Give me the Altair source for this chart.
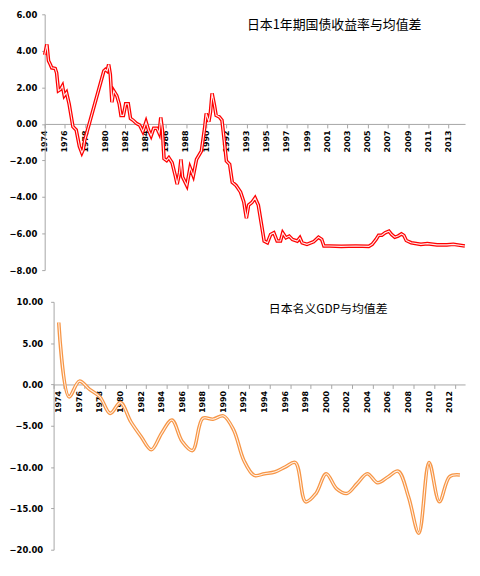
import json
import altair as alt
import pandas as pd

# ---------------- data ----------------
bond_title = "日本1年期国债收益率与均值差"
bond_ticks = ["1974", "1976", "1978", "1980", "1982", "1984", "1986", "1988", "1990", "1992",
              "1993", "1995", "1997", "1999", "2001", "2003", "2005", "2007", "2009", "2011", "2013"]
# position along the category axis, in label-step units (0 = "1974" label)
bond_pos = [0.00, 0.11, 0.19, 0.28, 0.35, 0.52, 0.59, 0.68, 0.79, 0.88, 0.97, 1.08, 1.21,
            1.40, 1.56, 1.72, 1.84, 1.91, 1.98, 2.93, 3.01, 3.09, 3.17, 3.25, 3.33, 3.42,
            3.57, 3.69, 3.78, 3.90, 4.01, 4.14, 4.25, 4.38, 4.54, 4.70, 4.86, 5.02, 5.14,
            5.27, 5.40, 5.56, 5.67, 5.75, 5.83, 5.91, 6.04, 6.15, 6.31, 6.47, 6.56, 6.68,
            6.75, 6.83, 7.04, 7.20, 7.36, 7.52, 7.76, 7.92, 8.00, 8.13, 8.21, 8.29, 8.41,
            8.49, 8.65, 8.78, 8.89, 9.00, 9.16, 9.29, 9.48, 9.70, 9.86, 9.99, 10.10, 10.26,
            10.42, 10.58, 10.74, 10.87, 11.03, 11.19, 11.35, 11.51, 11.68, 11.79, 11.95,
            12.11, 12.27, 12.51, 12.64, 12.75, 12.99, 13.32, 13.56, 13.72, 13.83, 14.12,
            14.69, 15.41, 16.05, 16.22, 16.41, 16.54, 16.70, 16.86, 17.05, 17.18, 17.34,
            17.50, 17.67, 17.79, 17.91, 18.15, 18.63, 18.95, 19.43, 19.92, 20.24, 20.81]
bond_val = [3.78, 4.35, 3.46, 3.25, 3.07, 3.03, 2.80, 1.82, 1.90, 2.08, 1.55, 1.72, 1.10,
            -0.15, -0.33, -1.23, -1.58, -1.40, -0.90, 2.90, 2.98, 2.90, 3.25, 2.71, 1.19, 1.82,
            1.55, 1.10, 0.47, 0.47, 1.10, 1.10, 0.30, 0.20, 0.03, -0.06, -0.42, 0.12, -0.33,
            -0.65, -0.24, -0.24, -0.51, 0.35, -0.33, -1.90, -2.00, -1.85, -2.12, -2.84, -3.30, -2.66,
            -1.94, -2.90, -3.37, -2.39, -2.84, -1.94, -1.49, -0.24, 0.57, 0.12, 0.65, 1.67, 1.01,
            0.47, 0.38, 0.20, -0.87, -2.03, -2.21, -3.19, -3.37, -3.73, -4.26, -5.16, -4.44, -4.30,
            -4.05, -4.44, -5.52, -6.41, -6.50, -6.05, -5.96, -6.41, -6.41, -5.96, -6.23,
            -6.14, -6.32, -6.41, -6.23, -6.50, -6.59, -6.45, -6.20, -6.32, -6.68, -6.68,
            -6.70, -6.68, -6.70, -6.59, -6.32, -6.09, -6.09, -5.96, -5.87, -6.05, -6.20,
            -6.14, -6.02, -6.10, -6.38, -6.50, -6.59, -6.55, -6.62, -6.62, -6.59, -6.68]

gdp_title = "日本名义GDP与均值差"
gdp_years = [str(y) for y in range(1974, 2014)]
gdp_val = [7.5, -1.5, 0.4, -0.6, -1.5, -3.5, -2.2, -4.5, -6.3, -7.9,
           -5.9, -4.3, -6.9, -8.0, -4.1, -4.2, -3.8, -5.5, -9.2, -11.0,
           -10.8, -10.6, -10.0, -9.45, -14.2, -13.2, -10.8, -12.6, -13.2, -12.0,
           -10.8, -11.9, -11.2, -10.5, -13.6, -18.0, -9.45, -14.2, -11.15, -10.95]

bond_y_ticks = [-8, -6, -4, -2, 0, 2, 4, 6]
gdp_y_ticks = [-20, -15, -10, -5, 0, 5, 10]
gdp_label_years = gdp_years[::2]

# ---------------- styling ----------------
AX = "#A6A6A6"
LBL = "DejaVu Sans"
CJK = "Noto Sans CJK SC"

W = 424
H1, H2 = 258, 250
SHIFT2 = 9  # bottom chart's axis sits a little to the right of the top one

bond_df = pd.DataFrame({"pos": bond_pos, "val": bond_val})
gdp_df = pd.DataFrame({"year": gdp_years, "val": gdp_val})

# ---------------- top chart ----------------
x1 = alt.X("pos:Q",
           scale=alt.Scale(domain=[0, 20.82], nice=False, zero=False),
           axis=alt.Axis(values=list(range(len(bond_ticks))),
                         labelExpr=json.dumps(bond_ticks, ensure_ascii=False) + "[datum.value]",
                         orient="bottom", offset=-(H1 * 8 / 14), labelAngle=270,
                         labelFontSize=8, labelFontWeight="bold", labelColor="#000000",
                         labelPadding=2, tickSize=4, grid=False, title=None,
                         labelFlush=False, labelOverlap=False, labelBound=False))
y1 = alt.Y("val:Q",
           scale=alt.Scale(domain=[-8, 6], nice=False),
           axis=alt.Axis(values=bond_y_ticks, format=".2f", grid=False, title=None,
                         tickSize=3, labelPadding=5, labelOverlap=False,
                         labelFontSize=8.5, labelFontWeight="bold", labelColor="#000000",
                         labelFlush=False))

bond_base = alt.Chart(bond_df).encode(x=x1, y=y1)
bond_outer = bond_base.mark_line(color="#FF0000", strokeWidth=3.6)
bond_inner = bond_base.mark_line(color="#FFECEC", strokeWidth=1.1)
bond_lab = alt.Chart(pd.DataFrame({"t": [bond_title]})).mark_text(
    font=CJK, fontSize=13, align="left", baseline="middle", color="#000000"
).encode(text="t:N", x=alt.value(204), y=alt.value(10.5))

top = alt.layer(bond_outer, bond_inner, bond_lab).properties(width=W, height=H1)

# ---------------- bottom chart ----------------
x2 = alt.X("year:O",
           scale=alt.Scale(type="band", paddingInner=0, paddingOuter=0, range=[SHIFT2, W]),
           axis=alt.Axis(values=gdp_label_years, tickBand="extent",
                         orient="bottom", offset=-(H2 * 20 / 30), labelAngle=270,
                         labelFontSize=8, labelFontWeight="bold", labelColor="#000000",
                         labelPadding=2, tickSize=4, grid=False, title=None,
                         labelOverlap=False, labelBound=False))
y2 = alt.Y("val:Q",
           scale=alt.Scale(domain=[-20, 10], nice=False),
           axis=alt.Axis(values=gdp_y_ticks, format=".2f", grid=False, title=None,
                         tickSize=3, labelPadding=8, offset=-SHIFT2, labelOverlap=False,
                         labelFontSize=8.5, labelFontWeight="bold", labelColor="#000000",
                         labelFlush=False))

gdp_base = alt.Chart(gdp_df).encode(x=x2, y=y2)
gdp_outer = gdp_base.mark_line(color="#F79646", strokeWidth=3.6, interpolate="catmull-rom")
gdp_inner = gdp_base.mark_line(color="#FFF2E8", strokeWidth=1.1, interpolate="catmull-rom")
gdp_lab = alt.Chart(pd.DataFrame({"t": [gdp_title]})).mark_text(
    font=CJK, fontSize=12, align="left", baseline="middle", color="#000000"
).encode(text="t:N", x=alt.value(226), y=alt.value(7))

bottom = alt.layer(gdp_outer, gdp_inner, gdp_lab).properties(width=W, height=H2)

chart = alt.vconcat(top, bottom, spacing=32, bounds="flush").properties(
    padding={"left": 0, "top": 0, "right": 0, "bottom": 0}
).configure_view(stroke=None).configure_axis(
    labelFont=LBL, domainColor=AX, tickColor=AX, domainWidth=1, tickWidth=1
)

chart.save("out.html", embed_options={"renderer": "svg", "actions": False})
